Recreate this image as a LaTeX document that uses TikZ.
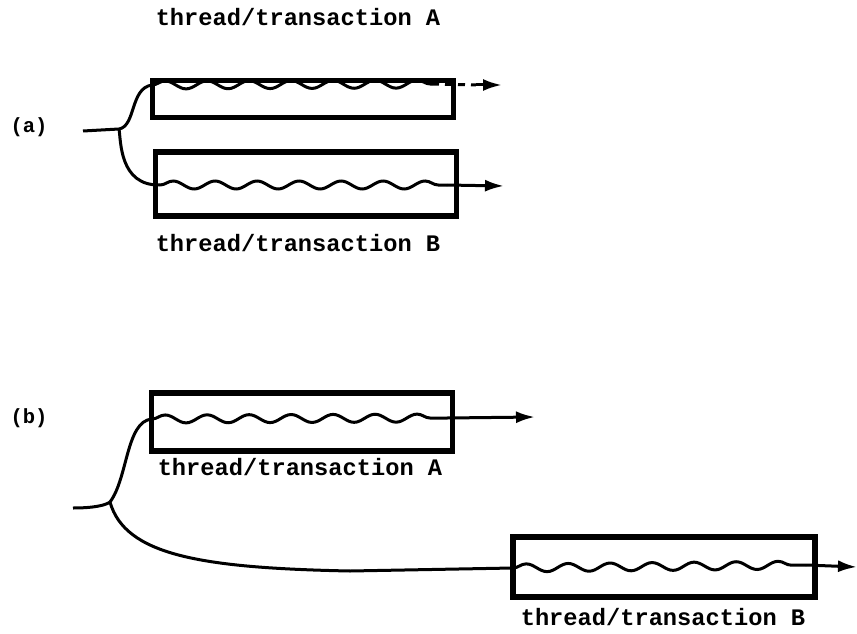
\documentclass[tikz,border=0pt]{standalone}
\usepackage{fontspec}
\setmainfont{Liberation Mono}
\usetikzlibrary{decorations.pathmorphing,arrows.meta}
\tikzset{
  tbox/.style={draw, line width=5.2pt, inner sep=0pt, minimum width=#1},
  wave/.style={line width=3pt, decorate, decoration={snake, segment length=42pt, amplitude=4pt}},
  flow/.style={line width=3pt},
  outarrow/.style={line width=3pt, -{Latex[length=19pt, width=12pt]}},
  lbl/.style={font=\bfseries\fontsize{23.7}{26}\selectfont, inner sep=0pt},
  tag/.style={font=\bfseries\fontsize{20.5}{24}\selectfont, inner sep=0pt},
}
\begin{document}
\begin{tikzpicture}[x=1pt,y=-1pt]
\useasboundingbox (0,0) rectangle (857,634);

% ---------- (a) parallel threads ----------
\node[tag] (la) at (29,127) {(a)};
\node[tbox=301pt, minimum height=37pt] (aA) at (303,99) {};
\node[tbox=301pt, minimum height=64pt] (aB) at (306,184) {};
\node[lbl] (aAl) at (298,17) {thread/transaction A};
\node[lbl] (aBl) at (298,243) {thread/transaction B};

\coordinate (ain) at (83,131);
\coordinate (afork) at (119,129);
\coordinate (aAs) at (152,85);
\coordinate (aAe) at (432,84);
\coordinate (aAd) at (476,85);
\coordinate (aAt) at (502,85);
\coordinate (aBs) at (160,185);
\coordinate (aBe) at (447,185);
\coordinate (aBt) at (504,186);

\draw[flow] (ain) -- (afork);
\draw[flow] (afork) .. controls (136,126) and (130,88) .. (aAs);
\draw[flow] (afork) .. controls (121,140) and (119,186) .. (aBs);
\draw[wave] (aAs) -- (aAe);
\draw[flow, dash pattern=on 7pt off 6pt] (aAe) -- (aAd);
\draw[outarrow] (aAd) -- (aAt);
\draw[wave] (aBs) -- (aBe);
\draw[outarrow] (aBe) -- (aBt);

% ---------- (b) staggered threads ----------
\node[tag] (lb) at (29,418) {(b)};
\node[tbox=301pt, minimum height=58pt] (bA) at (302,422) {};
\node[tbox=302pt, minimum height=60pt] (bB) at (664,567) {};
\node[lbl] (bAl) at (300,467) {thread/transaction A};
\node[lbl] (bBl) at (663,617) {thread/transaction B};

\coordinate (bin) at (73,508);
\coordinate (bfork) at (110,502);
\coordinate (bAs) at (152,419);
\coordinate (bAe) at (447,418);
\coordinate (bAt) at (535,417);
\coordinate (bjoin) at (513,568);
\coordinate (bBe) at (806,565);
\coordinate (bBt) at (857,567);

\draw[flow] (bin) .. controls (95,508) and (106,505) .. (bfork);
\draw[flow] (bfork) .. controls (128,478) and (126,421) .. (bAs);
\draw[flow] (bfork) .. controls (125,555) and (200,568) .. (350,571) -- (bjoin);
\draw[wave] (bjoin) -- (bBe);
\draw[outarrow] (bBe) -- (bBt);
\draw[wave] (bAs) -- (bAe);
\draw[outarrow] (bAe) -- (bAt);
\end{tikzpicture}
\end{document}
